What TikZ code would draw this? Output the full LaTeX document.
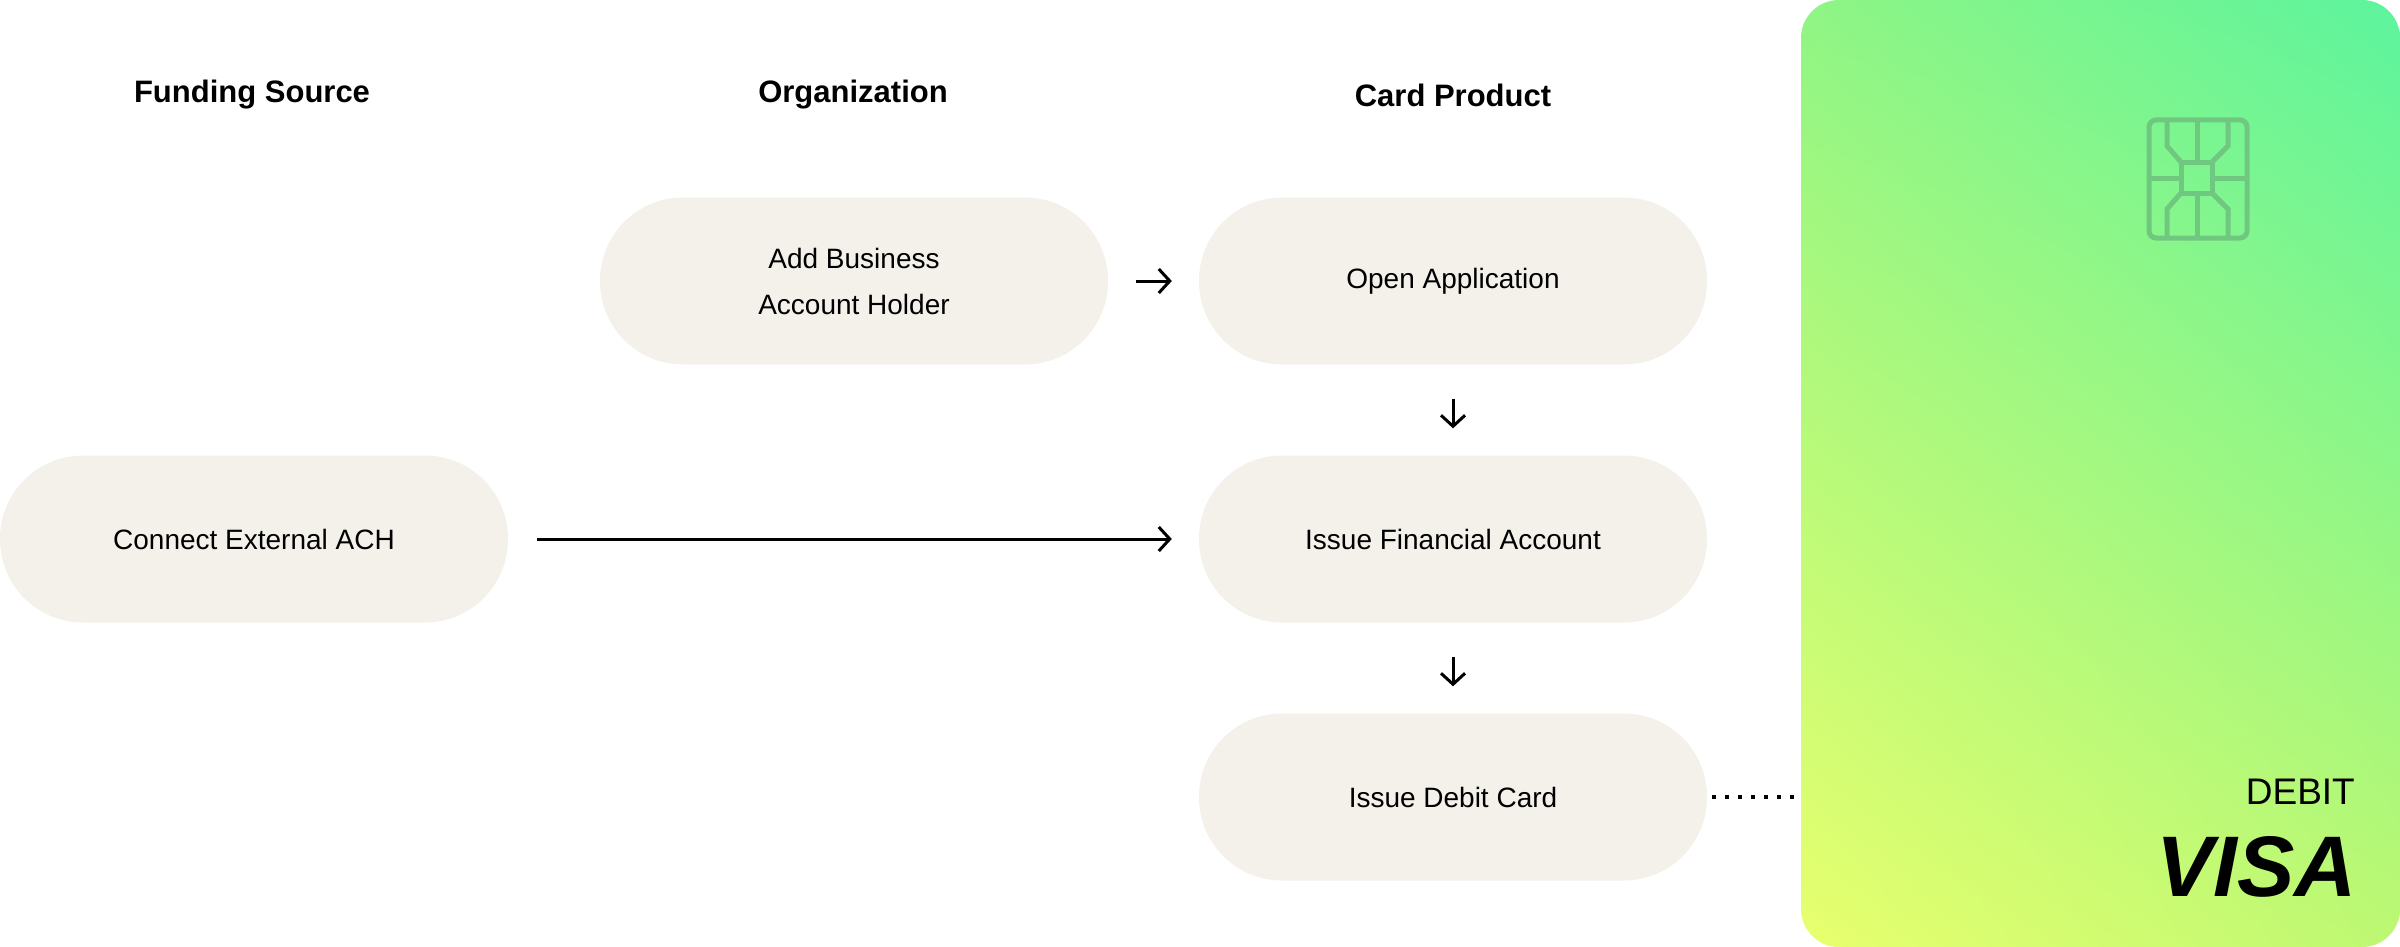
\documentclass[tikz,border=0pt]{standalone}
\usepackage{fontspec}
\setmainfont{Liberation Sans}
\usetikzlibrary{arrows.meta,shadings}
\definecolor{pill}{HTML}{F4F1EB}
\definecolor{chip}{RGB}{112,200,128}
\definecolor{gUR}{HTML}{5CF49E}
\definecolor{gUL}{HTML}{8FF584}
\definecolor{gLL}{HTML}{E8FF6E}
\definecolor{gLR}{HTML}{BDF872}
\tikzset{
 pillbox/.style={fill=pill,rounded corners=83pt,minimum width=508pt,minimum height=167pt,inner sep=0pt,align=center,font=\fontsize{28pt}{46pt}\selectfont},
 head/.style={font=\fontsize{31pt}{36pt}\selectfont\bfseries},
 flow/.style={line width=3pt,-{Straight Barb[length=11pt,width=24pt,line width=3pt]}},
}
\begin{document}
\begin{tikzpicture}[x=1pt,y=-1pt]
\useasboundingbox (0,0) rectangle (2400,947);
\node[head] (h1) at (252,95) {Funding Source};
\node[head] (h2) at (853,95) {Organization};
\node[head] (h3) at (1453,95) {Card Product};
\node[pillbox] (add) at (854,281) {Add Business\\Account Holder};
\node[pillbox] (open) at (1453,281) {Open Application};
\node[pillbox] (fin) at (1453,539) {Issue Financial Account};
\node[pillbox] (deb) at (1453,797) {Issue Debit Card};
\node[pillbox] (ach) at (254,539) {Connect External ACH};
% card
\shade[rounded corners=38pt,upper right=gUR,upper left=gUL,lower left=gLL,lower right=gLR] (1801,0) rectangle (2400,947);
\coordinate (card) at (1801,797);
\begin{scope}[draw=chip,line width=5pt]
\draw[rounded corners=7pt] (2149,120) rectangle (2247,238);
\draw (2181,162) rectangle (2212,193);
\draw (2167,120) -- (2167,146) -- (2181,162);
\draw (2228,120) -- (2228,146) -- (2212,162);
\draw (2197,120) -- (2197,162);
\draw (2167,238) -- (2167,209) -- (2181,193);
\draw (2228,238) -- (2228,209) -- (2212,193);
\draw (2197,193) -- (2197,238);
\draw (2149,178) -- (2181,178);
\draw (2212,178) -- (2247,178);
\end{scope}
\node[anchor=east,font=\fontsize{37pt}{40pt}\selectfont,inner sep=0pt] (debit) at (2355,792) {DEBIT};
\node[anchor=east,font=\fontsize{86pt}{90pt}\selectfont\bfseries\itshape,inner sep=0pt] (visa) at (2357,867) {VISA};
% connectors
\draw[flow,shorten <=28pt,shorten >=27pt] (add) -- (open);
\draw[flow,shorten <=34pt,shorten >=27pt] (open) -- (fin);
\draw[flow,shorten <=34pt,shorten >=27pt] (fin) -- (deb);
\draw[flow,shorten <=29pt,shorten >=27pt] (ach) -- (fin);
\draw[line width=3.5pt,dash pattern=on 4pt off 9pt,shorten <=5pt] (deb.east) -- (card);
\end{tikzpicture}
\end{document}
